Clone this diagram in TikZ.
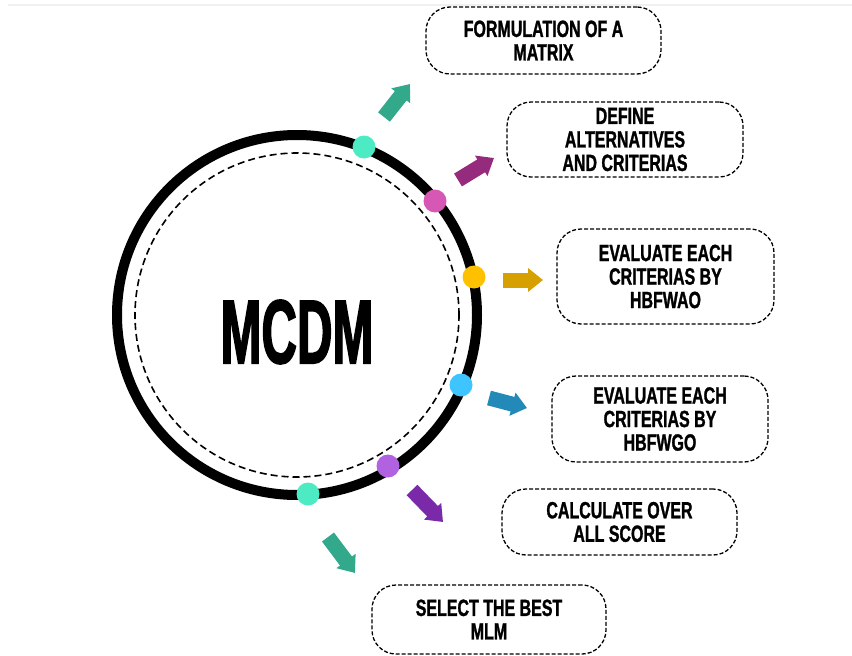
\documentclass[tikz,border=0pt]{standalone}
\usepackage{fontspec}
\setmainfont{Liberation Sans}
\newfontfamily\boxfont{Liberation Sans}[FakeStretch=0.68,FakeBold=1.2]
\newfontfamily\titlefont{Liberation Sans}[FakeStretch=0.54,FakeBold=1.5]
\usetikzlibrary{arrows.meta}
\definecolor{tealdot}{HTML}{4DEBC3}
\definecolor{pinkdot}{HTML}{D658B4}
\definecolor{golddot}{HTML}{FFC000}
\definecolor{bluedot}{HTML}{3EC4FF}
\definecolor{purpledot}{HTML}{B062E0}
\definecolor{tealarrow}{HTML}{33A98B}
\definecolor{pinkarrow}{HTML}{962A7C}
\definecolor{goldarrow}{HTML}{D6A100}
\definecolor{bluearrow}{HTML}{2389B8}
\definecolor{purplearrow}{HTML}{7A2AA8}
\tikzset{
  stepbox/.style={draw, dashed, dash pattern=on 4pt off 2pt, line width=1.3pt,
    rounded corners=24pt, align=center, inner sep=0pt,
    font=\boxfont\bfseries\fontsize{23.5}{23.5}\selectfont},
  blockarrow/.style={line width=15pt, -{Triangle[width=23pt,length=15pt]}},
  dot/.style={circle, inner sep=0pt, minimum size=23pt}
}
\begin{document}
\begin{tikzpicture}[x=1pt,y=-1pt]
\useasboundingbox (0,0) rectangle (852,656);
\draw[gray!12, line width=1.5pt] (8,5) -- (852,5);
% wheel
\node[circle, draw, line width=10pt, minimum size=360pt, inner sep=0pt] (wheel) at (297,315) {};
\node[circle, draw, dashed, dash pattern=on 7pt off 4pt, line width=1.6pt, minimum size=324pt, inner sep=0pt] (inner) at (297,315) {};
\node[font=\titlefont\bfseries\fontsize{91}{91}\selectfont] (mcdm) at (297,332) {MCDM};
% dots on the wheel
\node[dot, fill=tealdot] (d1) at (364,147) {};
\node[dot, fill=pinkdot] (d2) at (435,201) {};
\node[dot, fill=golddot] (d3) at (474,277) {};
\node[dot, fill=bluedot] (d4) at (461,385) {};
\node[dot, fill=purpledot] (d5) at (388,466) {};
\node[dot, fill=tealdot] (d6) at (308,494) {};
% steps
\node[stepbox, minimum width=235pt, minimum height=67pt] (formulate) at (543.5,40.5) {FORMULATION OF A\\MATRIX};
\node[stepbox, minimum width=236pt, minimum height=75pt] (define) at (625,139.5) {DEFINE\\ALTERNATIVES\\AND CRITERIAS};
\node[stepbox, minimum width=217pt, minimum height=95pt] (wao) at (665.5,276.5) {EVALUATE EACH\\CRITERIAS BY\\HBFWAO};
\node[stepbox, minimum width=216pt, minimum height=86pt] (wgo) at (660,419) {EVALUATE EACH\\CRITERIAS BY\\HBFWGO};
\node[stepbox, minimum width=235pt, minimum height=66pt] (score) at (619.5,522) {CALCULATE OVER\\ALL SCORE};
\node[stepbox, minimum width=234pt, minimum height=69pt] (select) at (489,619.5) {SELECT THE BEST\\MLM};
% arrows
\draw[blockarrow, tealarrow] (384,117) -- (410,84);
\draw[blockarrow, pinkarrow] (458,180) -- (494,158);
\draw[blockarrow, goldarrow] (503,280) -- (543,280);
\draw[blockarrow, bluearrow] (489,398) -- (527,408);
\draw[blockarrow, purplearrow] (412,490) -- (443,522);
\draw[blockarrow, tealarrow] (328,537) -- (355,573);
\end{tikzpicture}
\end{document}
